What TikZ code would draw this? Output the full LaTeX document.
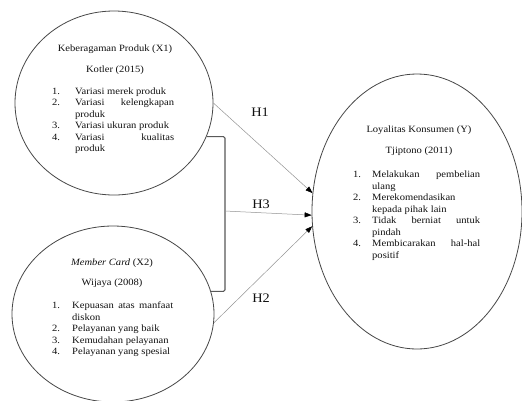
\documentclass[tikz,border=0pt]{standalone}
\usepackage{fontspec}
\setmainfont{Liberation Serif}[FakeStretch=1.1]
\usetikzlibrary{shapes.geometric,arrows.meta}
\newlength{\lind}
\newcommand{\lset}[1]{\setlength{\lind}{#1}\hyphenpenalty=10000 \exhyphenpenalty=10000 \setlength{\parskip}{0pt}\relax}
\newcommand{\lit}[2]{\par\noindent\hangindent=\lind\hangafter=1\makebox[\lind][l]{#1}#2}
\definecolor{txt}{HTML}{111111}
\tikzset{
  oval/.style={ellipse, draw=black!72, line width=0.8pt, inner sep=0pt},
  ttl/.style={anchor=base, inner sep=0pt, font=\fontsize{9.6}{11.5}\selectfont, text=txt},
  listbox/.style={anchor=north west, inner sep=0pt, align=justify, text=txt,
    font=\fontsize{9.6}{11.5}\selectfont},
  arr/.style={draw=black!42, line width=0.5pt, -{Triangle[length=7pt,width=5pt,color=black]}},
  brk/.style={draw=black!65, line width=1.1pt, rounded corners=1.5pt},
  hlab/.style={inner sep=0pt, font=\fontsize{13}{15}\selectfont, text=txt}
}
\begin{document}
\begin{tikzpicture}[x=1pt,y=-1pt]
\useasboundingbox (0,0) rectangle (522,400);
\fill[white] (0,0) rectangle (522,400);
\clip (0,0) rectangle (522,400);

% ellipses
\node[oval, minimum width=198pt, minimum height=184pt] (x1) at (114,103) {};
\node[oval, minimum width=202pt, minimum height=176pt] (x2) at (113,314) {};
\node[oval, minimum width=210pt, minimum height=275pt] (y) at (417,211.5) {};

% X1 texts
\node[ttl] (x1t) at (115,51) {Keberagaman Produk (X1)};
\node[ttl] (x1s) at (115,72) {Kotler (2015)};
\node[listbox, text width=122pt] (x1l) at (52,82.3) {\lset{23pt}%
\lit{1.}{\rule{0pt}{7pt}Variasi merek produk}%
\lit{2.}{Variasi kelengkapan\linebreak produk}%
\lit{3.}{Variasi ukuran produk}%
\lit{4.}{Variasi kualitas\linebreak produk}\par};

% X2 texts
\node[ttl] (x2t) at (112,265) {\textit{Member Card} (X2)};
\node[ttl] (x2s) at (112,285) {Wijaya (2008)};
\node[listbox, text width=121pt] (x2l) at (52,297) {\lset{20pt}%
\lit{1.}{\rule{0pt}{7pt}Kepuasan atas manfaat\linebreak diskon}%
\lit{2.}{Pelayanan yang baik}%
\lit{3.}{Kemudahan pelayanan}%
\lit{4.}{Pelayanan yang spesial}\par};

% Y texts
\node[ttl] (yt) at (419,132) {Loyalitas Konsumen (Y)};
\node[ttl] (ys) at (419,153) {Tjiptono (2011)};
\node[listbox, text width=127pt] (yl) at (353,166) {\lset{19pt}%
\lit{1.}{\rule{0pt}{7pt}Melakukan pembelian\linebreak ulang}%
\lit{2.}{Merekomendasikan\newline kepada pihak lain}%
\lit{3.}{Tidak berniat untuk\linebreak pindah}%
\lit{4.}{Membicarakan hal-hal\linebreak positif}\par};

% bracket
\coordinate (bm) at (225,211);
\draw[brk] (x1.-20) -- (x1.-20 -| bm) -- (x2.13 -| bm) -- (x2.13);

% arrows
\draw[arr] (x1.east) -- (y.170);
\draw[arr] (bm) -- (y.182);
\draw[arr] (x2.-5) -- (y.188);

% labels
\node[hlab] (h1) at (260,112) {H1};
\node[hlab] (h3) at (261,204.5) {H3};
\node[hlab] (h2) at (261,298) {H2};
\end{tikzpicture}
\end{document}
